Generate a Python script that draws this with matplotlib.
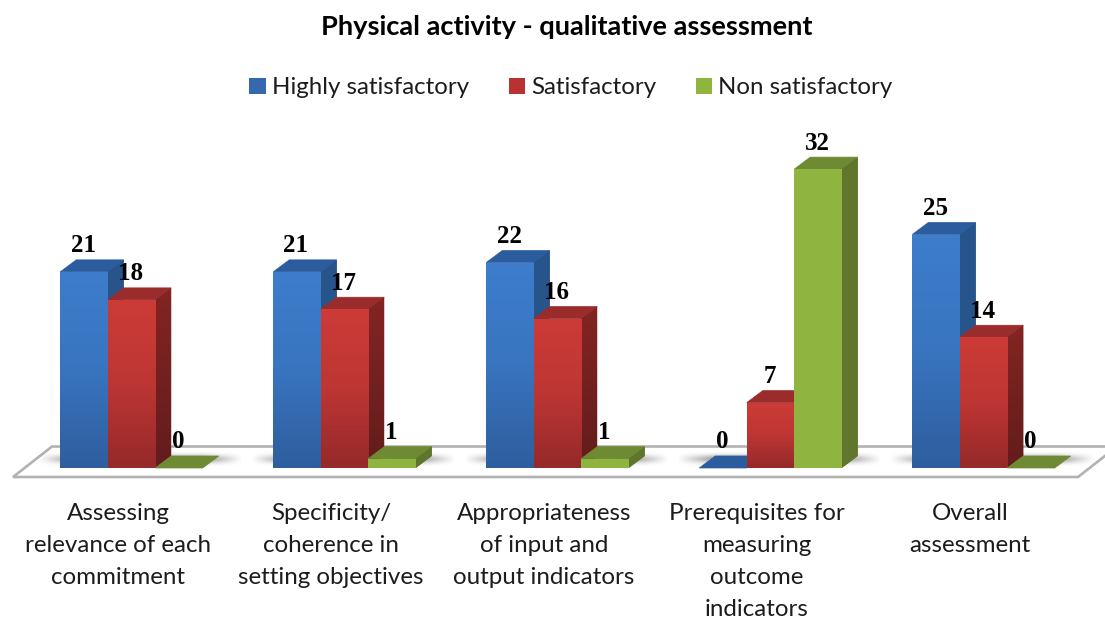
import numpy as np
import matplotlib
matplotlib.use("Agg")
import matplotlib.pyplot as plt
from matplotlib.patches import Patch, Polygon
from matplotlib.colors import LinearSegmentedColormap, to_rgb

categories = ["Assessing\nrelevance of each\ncommitment",
              "Specificity/\ncoherence in\nsetting objectives",
              "Appropriateness\nof input and\noutput indicators",
              "Prerequisites for\nmeasuring\noutcome\nindicators",
              "Overall\nassessment"]
series_names = ["Highly satisfactory", "Satisfactory", "Non satisfactory"]
highly = [21, 21, 22, 0, 25]
satisfactory = [18, 17, 16, 7, 14]
non_satisfactory = [0, 1, 1, 32, 0]

W, H = 1105, 618
base_px = 468          # pixel row of value 0
px_per_val = 9.34
px_per_cat = 213
first_px = 131.5       # pixel column of first group centre
axes_bottom_px = 486

front_top = ["#3D7DCC", "#CC3B37", "#8FB43F"]
front_bot = ["#2E5E9E", "#96292A", "#8FB43F"]
side_top = ["#28548C", "#832523", "#5F762C"]
side_bot = ["#28548C", "#631C1C", "#5F762C"]
top_col = ["#2B5D9E", "#9A2D2B", "#6E8B34"]

# px -> data helpers
def px_x(p):
    return (p - first_px) / px_per_cat

def px_y(p):
    return (base_px - p) / px_per_val

bar_w = 47.5 / px_per_cat
dx = 16 / px_per_cat
dy = 12 / px_per_val

fig = plt.figure(figsize=(W / 100, H / 100), dpi=100)
ax = fig.add_axes([0, 1 - axes_bottom_px / H, 1, axes_bottom_px / H])
ax.set_xlim(px_x(0), px_x(W))
ax.set_ylim(px_y(axes_bottom_px), px_y(0))
for s in ax.spines.values():
    s.set_visible(False)
ax.set_yticks([])

# floor
floor = Polygon([(px_x(13), px_y(477)), (px_x(1078), px_y(477)), (px_x(1117), px_y(446.5)), (px_x(52), px_y(446.5))],
                closed=True, fc="white", ec="#B2B2B2", lw=1.9, zorder=1, clip_on=False)
ax.add_patch(floor)

x = np.arange(len(categories))

# soft shadow on the floor behind each group
sh_y = np.exp(-((np.linspace(-1, 1, 24)) / 0.6) ** 2)
for i in x:
    l = px_x(first_px + i * px_per_cat - 71.5 - 22)
    r = px_x(first_px + i * px_per_cat + 71.5 + 40)
    sh_x = np.clip(np.minimum(np.linspace(0, 1, 200), np.linspace(1, 0, 200)) * 5, 0, 1)
    rgba = np.zeros((24, 200, 4))
    rgba[..., 3] = 0.42 * np.outer(sh_y, sh_x)
    ax.imshow(rgba, extent=[l, r, px_y(466), px_y(452)], aspect="auto", zorder=1.5, interpolation="bilinear")

values = [highly, satisfactory, non_satisfactory]
for j, vals in enumerate(values):
    pos = x + (j - 1) * bar_w
    bars = ax.bar(pos, vals, width=bar_w, color=front_top[j], linewidth=0, zorder=3 + j)
    mid = 0.72 * np.array(to_rgb(front_top[j])) + 0.28 * np.array(to_rgb(front_bot[j]))
    cm = LinearSegmentedColormap.from_list("f", [front_top[j], mid, front_bot[j]])
    cms = LinearSegmentedColormap.from_list("s", [side_top[j], side_bot[j]])
    for b, v in zip(bars, vals):
        l, r = b.get_x(), b.get_x() + b.get_width()
        # top face and side face
        ax.add_patch(Polygon([(l, v), (r, v), (r + dx, v + dy), (l + dx, v + dy)], fc=top_col[j], ec=top_col[j], lw=0.5, zorder=3 + j))
        if v > 0:
            side = Polygon([(r, 0), (r + dx, dy), (r + dx, v + dy), (r, v)], fc=side_top[j], ec="none", zorder=3 + j)
            ax.add_patch(side)
            g = np.linspace(0, 1, 64).reshape(-1, 1)
            im = ax.imshow(g, extent=[r, r + dx, 0, v + dy], origin="upper", cmap=cms, aspect="auto", zorder=3 + j)
            im.set_clip_path(side)
            im2 = ax.imshow(g, extent=[l, r, 0, v], origin="upper", cmap=cm, aspect="auto", zorder=3.1 + j)
            im2.set_clip_path(b)
        ax.text((l + r) / 2 - 1 / px_per_cat, v + 26 / px_per_val, str(v), ha="center", va="center",
                family="Liberation Serif", weight="bold", fontsize=18, color="black", zorder=10)

ax.set_xlim(px_x(0), px_x(W))
ax.set_ylim(px_y(axes_bottom_px), px_y(0))

ax.set_xticks(x - 13.5 / px_per_cat, categories)
ax.tick_params(axis="x", length=0, pad=12, labelsize=17.4, labelcolor="#1c1c1c")
for t in ax.get_xticklabels():
    t.set_family("Lato")
    t.set_linespacing(1.65)
    t.set_va("top")

fig.text(567 / W, 1 - 27 / H, "Physical activity - qualitative assessment", ha="center", va="center",
         family="Lato", weight="bold", fontsize=19.6, color="black")

handles = [Patch(fc=c, ec="none") for c in ["#3568AE", "#B83231", "#8FB43F"]]
leg = fig.legend(handles, series_names, loc="center", bbox_to_anchor=(571 / W, 1 - 88 / H), ncol=3, frameon=False,
                 handlelength=0.67, handleheight=0.67, handletextpad=0.25, columnspacing=1.67,
                 prop={"family": "Lato", "size": 17.3}, labelcolor="#1c1c1c")

fig.savefig("out.png", dpi=100)
